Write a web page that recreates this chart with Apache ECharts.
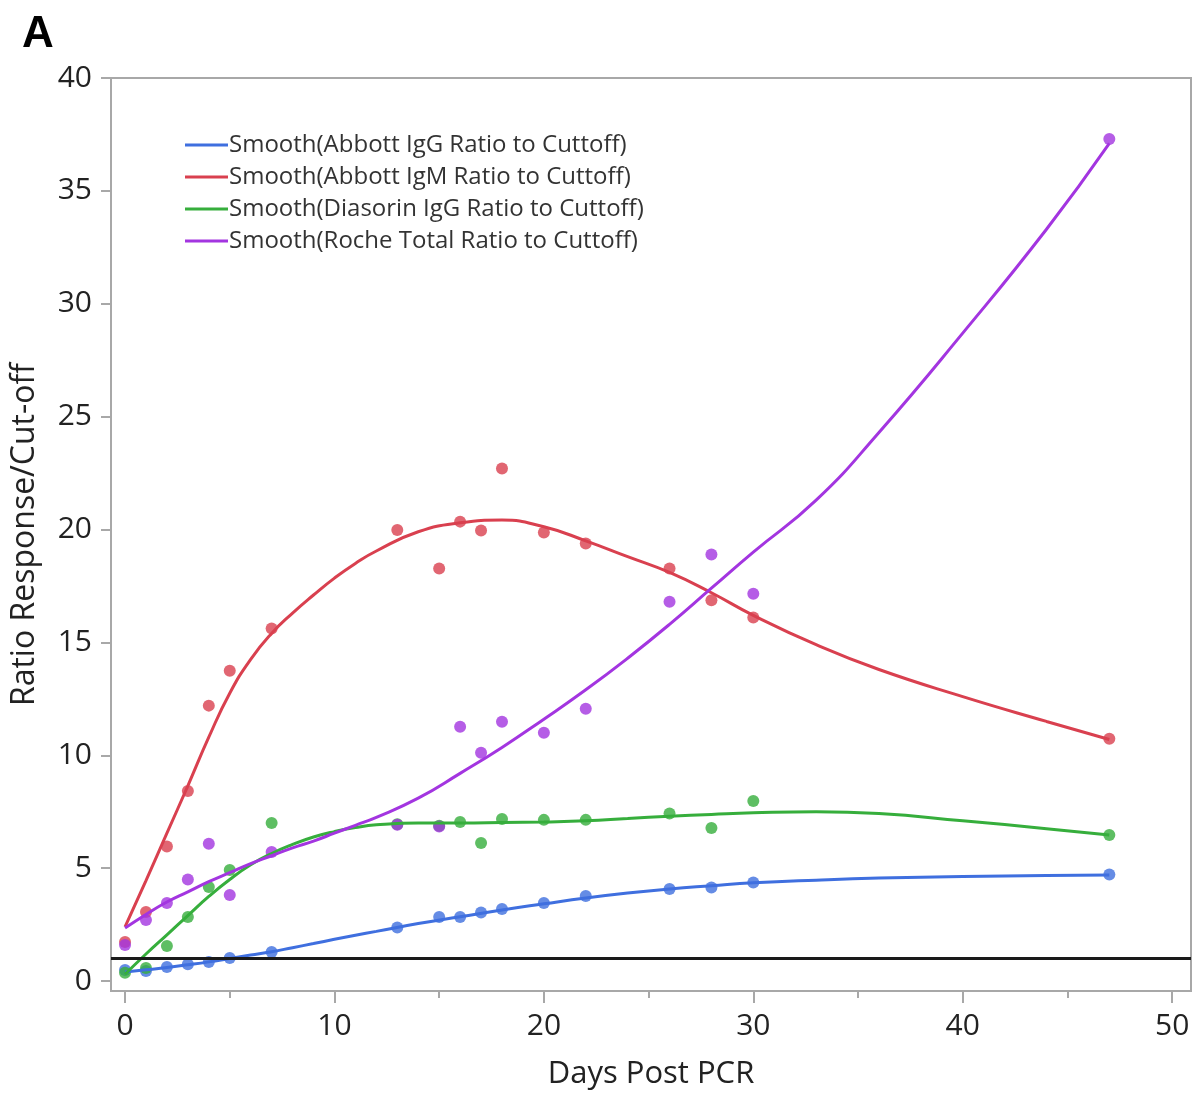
<!DOCTYPE html>
<html>
<head>
<meta charset="utf-8">
<script src="https://cdn.jsdelivr.net/npm/echarts@6/dist/echarts.min.js"></script>
<style>
html,body{margin:0;padding:0;background:#fff;}
#chart{width:1198px;height:1097px;}
</style>
</head>
<body>
<div id="chart"></div>
<script>
// Observed days (same for all assays)
const days = [0,1,2,3,4,5,7,13,15,16,17,18,20,22,26,28,30,47];
const abbottIgG  = [0.49,0.45,0.62,0.75,0.84,1.02,1.29,2.37,2.84,2.84,3.04,3.19,3.46,3.77,4.08,4.14,4.37,4.72];
const abbottIgM  = [1.73,3.06,5.96,8.42,12.2,13.75,15.62,19.98,18.27,20.35,19.96,22.7,19.87,19.38,18.27,16.87,16.1,10.73];
const diasorinIgG= [0.37,0.58,1.55,2.84,4.17,4.92,7.0,6.95,6.88,7.05,6.12,7.18,7.14,7.14,7.42,6.78,7.98,6.47];
const rocheTotal = [1.6,2.7,3.46,4.5,6.08,3.81,5.72,6.92,6.85,11.26,10.11,11.49,11.0,12.06,16.8,18.89,17.16,37.3];

// Smoothed curves at these days
const curveDays  = [0,1,2,3,4,5,6,7,8,9,10,11,12,14,16,18,20,22,24,26,28,30,33,36,40,44,47];
const smoothIgG  = [0.4,0.5,0.6,0.72,0.85,1.0,1.15,1.3,1.48,1.66,1.85,2.03,2.2,2.55,2.85,3.15,3.42,3.68,3.9,4.08,4.22,4.35,4.47,4.56,4.63,4.68,4.7];
const smoothIgM  = [2.4,4.45,6.55,8.65,10.8,12.75,14.25,15.4,16.3,17.1,17.85,18.5,19.05,19.9,20.3,20.42,20.12,19.5,18.8,18.1,17.2,16.2,14.9,13.8,12.6,11.5,10.7];
const smoothDia  = [0.3,1.2,2.05,2.9,3.75,4.5,5.15,5.65,6.05,6.38,6.62,6.8,6.92,7.0,7.0,7.02,7.05,7.1,7.2,7.3,7.38,7.45,7.5,7.42,7.1,6.75,6.47];
const smoothRoche= [2.35,2.95,3.5,3.95,4.4,4.8,5.2,5.55,5.9,6.2,6.55,6.9,7.25,8.1,9.2,10.35,11.6,12.9,14.3,15.8,17.4,19.0,21.3,24.3,28.7,33.3,37.1];

const legendNames = [
  'Smooth(Abbott IgG Ratio to Cuttoff)',
  'Smooth(Abbott IgM Ratio to Cuttoff)',
  'Smooth(Diasorin IgG Ratio to Cuttoff)',
  'Smooth(Roche Total Ratio to Cuttoff)'
];
const colors = ['#3f6fdf','#d9404f','#36ae3c','#a335e0'];
const xMajor = [0,10,20,30,40,50];
const xMinor = [5,15,25,35,45];
const yTicks = [0,5,10,15,20,25,30,35,40];
const cutoff = 1;

const pointsSets = [abbottIgG, abbottIgM, diasorinIgG, rocheTotal];
const curveSets = [smoothIgG, smoothIgM, smoothDia, smoothRoche];
const pointNames = ['Abbott IgG','Abbott IgM','Diasorin IgG','Roche Total'];

const zip = (xs, ys) => xs.map((x,i)=>[x, ys[i]]);

const series = [];
for (let i=0;i<4;i++){
  series.push({
    name: pointNames[i], type:'scatter', symbol:'circle', symbolSize:12,
    itemStyle:{color:colors[i]}, data: zip(days, pointsSets[i]), z: 3, silent:true
  });
}
for (let i=0;i<4;i++){
  series.push({
    name: legendNames[i], type:'line', smooth:0.5, showSymbol:false,
    lineStyle:{color:colors[i], width:3}, itemStyle:{color:colors[i]},
    data: zip(curveDays, curveSets[i]), z: 4, silent:true
  });
}
series[0].markLine = {
  silent:true, symbol:['none','none'], label:{show:false},
  lineStyle:{color:'#1a1a1a', width:3, type:'solid'},
  data:[{yAxis: cutoff}]
};

const chart = echarts.init(document.getElementById('chart'), null, {renderer:'canvas'});
chart.setOption({
  animation:false,
  backgroundColor:'#fff',
  title:{text:'A', left:17, top:8, textStyle:{fontFamily:'Liberation Sans', fontWeight:'bold', fontSize:44, color:'#000'}},
  grid:{left:111, top:78, right:7, bottom:106, show:true, borderColor:'#a8a8a8', borderWidth:2},
  legend:{
    data: legendNames, orient:'vertical', left:180, top:128, itemGap:8,
    icon:'rect', itemWidth:43, itemHeight:3,
    textStyle:{fontFamily:'Open Sans', fontSize:24, color:'#333', lineHeight:24, padding:[0,0,0,-4]}
  },
  xAxis:[{
    type:'value', min:-0.67, max:50.9,
    name:'Days Post PCR', nameLocation:'middle', nameGap:68,
    nameTextStyle:{fontFamily:'Open Sans', fontSize:31, color:'#222'},
    axisLine:{show:true, onZero:false, lineStyle:{color:'#a8a8a8', width:2}},
    axisTick:{show:true, customValues:xMajor, length:12, lineStyle:{color:'#a8a8a8', width:2}},
    axisLabel:{customValues:xMajor, margin:20, fontFamily:'Open Sans', fontSize:30, color:'#222'},
    splitLine:{show:false}
  },{
    type:'value', min:-0.67, max:50.9, position:'bottom',
    axisLine:{show:false, onZero:false},
    axisTick:{show:true, customValues:xMinor, length:7, lineStyle:{color:'#a8a8a8', width:2}},
    axisLabel:{show:false}, splitLine:{show:false}
  }],
  yAxis:{
    type:'value', min:-0.44, max:40,
    name:'Ratio Response/Cut-off', nameLocation:'middle', nameGap:70, nameRotate:90,
    nameTextStyle:{fontFamily:'Open Sans', fontSize:32, color:'#222'},
    axisLine:{show:true, onZero:false, lineStyle:{color:'#a8a8a8', width:2}},
    axisTick:{show:true, customValues:yTicks, length:10, lineStyle:{color:'#a8a8a8', width:2}},
    axisLabel:{customValues:yTicks, margin:19, fontFamily:'Open Sans', fontSize:30, color:'#222'},
    splitLine:{show:false}
  },
  series: series
});
</script>
</body>
</html>
